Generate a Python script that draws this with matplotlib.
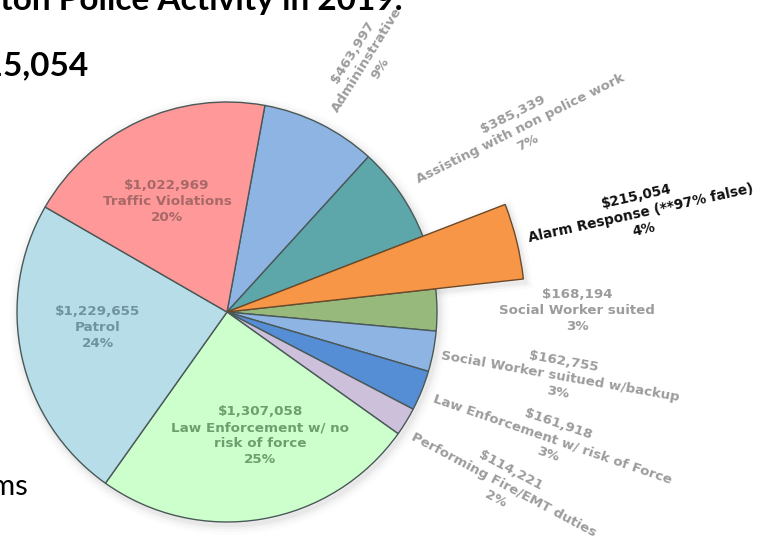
import matplotlib
matplotlib.use("Agg")
import matplotlib.pyplot as plt
from matplotlib.patches import Circle, Wedge
import numpy as np

# Police activity cost breakdown, 2019
categories = [
    "Admininstrative",
    "Assisting with non police work",
    "Alarm Response (**97% false)",
    "Social Worker suited",
    "Social Worker suitued w/backup",
    "Law Enforcement w/ risk of Force",
    "Performing Fire/EMT duties",
    "Law Enforcement w/ no\nrisk of force",
    "Patrol",
    "Traffic Violations",
]
costs = [463997, 385339, 215054, 168194, 162755, 161918, 114221,
         1307058, 1229655, 1022969]
colors = ["#8DB4E2", "#5DA6AA", "#F79646", "#97BA7C", "#8EB4E3",
          "#558ED5", "#CCC0DA", "#CCFFCC", "#B7DDE8", "#FF9999"]

highlight = 2           # alarm response slice
title_text = "Houston Police Activity in 2019."
headline_text = "$215,054"
footer_text = "Cost of alarms"

# label layout: (angle offset from wedge middle, distance in px, rotation, colour, size)
label_style = [
    (-2.7, 288, 58, "#9C9C9C", 9.6),
    (-2.4, 346, 26.5, "#9C9C9C", 9.6),
    (-0.3, 425, 12.5, "#111111", 9.8),
    (-0.3, 350, 0, "#9C9C9C", 9.6),
    (-0.2, 340, -10, "#9C9C9C", 9.6),
    (0.6, 350, -19, "#9C9C9C", 9.6),
    (-0.6, 326, -28, "#9C9C9C", 9.6),
    (5.4, 128, 0, "#6E9E6E", 9.7),
    (-5.4, 130, 0, "#7093A0", 9.7),
    (3.6, 126, 0, "#A86868", 9.7),
]

W, H = 758, 550
fig = plt.figure(figsize=(W / 100, H / 100), dpi=100)
ax = fig.add_axes([0, 0, 1, 1])

cx, cy, R = 227, H - 312, 210
total = sum(costs)
start = 79.6

# soft shadow behind the pie
for lw, a in [(14, 0.025), (10, 0.035), (6, 0.05), (3, 0.07)]:
    ax.add_patch(Circle((cx + 2, cy - 3), R, fc="none", ec="#808080",
                        lw=lw, alpha=a, zorder=0))

wedges, _ = ax.pie(costs, colors=colors, startangle=start, counterclock=False,
                   center=(cx, cy), radius=R,
                   wedgeprops=dict(edgecolor="#4A5858", linewidth=1.0))

# alarm response wedge drawn longer than the rest
w = wedges[highlight]
w.set_radius(R * 1.42)
w.set_edgecolor("#6B4A2A")
w.set_zorder(3)
for lw, a in [(10, 0.03), (6, 0.05), (3, 0.07)]:
    ax.add_patch(Wedge((cx + 2, cy - 3), R * 1.42, w.theta1, w.theta2,
                       fc="none", ec="#808080", lw=lw, alpha=a, zorder=0.5))

for wd, name, val, (doff, dist, rot, col, fs) in zip(wedges, categories, costs, label_style):
    mid = np.deg2rad((wd.theta1 + wd.theta2) / 2 + doff)
    x = cx + dist * np.cos(mid)
    y = cy + dist * np.sin(mid)
    pct = round(val / total * 100)
    ax.text(x, y, f"${val:,}\n{name}\n{pct}%", ha="center", va="center",
            rotation=rot, rotation_mode="anchor", color=col, fontsize=fs,
            fontweight="bold", family="DejaVu Sans", linespacing=1.3, zorder=5)

# slide text around the chart
ax.text(403, H - 10, title_text, ha="right", va="baseline", fontsize=24,
        fontweight="bold", family="Lato", color="black")
ax.text(89, H - 75, headline_text, ha="right", va="baseline", fontsize=24,
        fontweight="bold", family="Lato", color="black")
ax.text(28, H - 495, footer_text, ha="right", va="baseline", fontsize=21,
        family="Lato", color="black")

ax.set_xlim(0, W)
ax.set_ylim(0, H)
ax.set_aspect("equal", adjustable="box")
ax.axis("off")

fig.savefig("out.png", dpi=100)
